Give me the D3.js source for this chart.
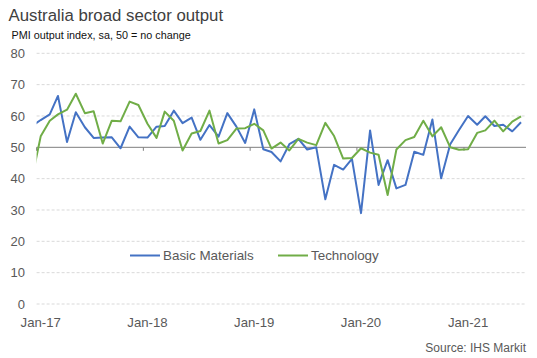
<!DOCTYPE html>
<html><head><meta charset="utf-8">
<script src="https://cdn.jsdelivr.net/npm/d3@7"></script>
<style>
html,body{margin:0;padding:0;background:#fff;}
svg{display:block;font-family:"Liberation Sans",Arial,sans-serif;}
</style></head>
<body><svg id="c" width="537" height="358"></svg>
<script>
// Monthly observations, Dec-16 .. Jul-21 (Dec-16 lies left of the axis start and is clipped)
const months = d3.utcMonth.range(new Date(Date.UTC(2016,11,1)), new Date(Date.UTC(2021,7,1)));
const basicMaterials = [56.7,
 58.7,60.5,66.4,51.7,61.2,56.4,53.0,53.1,53.2,49.7,56.6,53.2,
 53.1,56.6,56.8,61.7,57.7,59.5,52.4,57.1,53.4,60.9,56.6,51.4,
 62.1,49.4,48.5,45.5,51.0,52.7,49.3,50.0,33.4,44.4,42.9,46.3,
 29.0,55.4,38.0,45.9,36.9,38.0,48.6,47.6,58.9,40.1,51.0,55.5,
 60.0,57.2,59.9,56.8,57.2,55.1,58.0];
const technology = [39.5,
 53.5,58.5,60.5,62.0,67.1,60.9,61.5,51.2,58.5,58.3,64.6,63.5,
 57.5,53.0,61.4,58.5,49.0,54.4,55.2,61.7,51.2,52.3,56.0,56.1,
 57.5,55.4,49.6,51.5,49.0,52.7,51.5,50.7,57.8,53.6,46.4,46.6,
 49.7,48.3,47.6,34.8,49.3,52.3,53.3,58.5,53.5,56.4,50.0,49.2,
 49.4,54.6,55.4,58.5,55.1,58.2,59.9];
const yTicks = [0,10,20,30,40,50,60,70,80];
const xTickYears = [2017,2018,2019,2020,2021];
const xTickLabels = ["Jan-17","Jan-18","Jan-19","Jan-20","Jan-21"];
const seriesNames = ["Basic Materials","Technology"];
const seriesColors = ["#4472C4","#70AD47"];
const title = "Australia broad sector output";
const subtitle = "PMI output index, sa, 50 = no change";
const source = "Source: IHS Markit";

const svg = d3.select("#c");
const L = 36.6, R = 526, T = 53.3, B = 304;
const x = d3.scaleUtc().domain([new Date(Date.UTC(2017,0,1)), new Date(Date.UTC(2021,7,1))]).range([L, R]);
const y = d3.scaleLinear().domain([0,80]).range([B, T]);
const mid = d => d3.utcDay.offset(d, 14);

svg.append("text").attr("x",8.5).attr("y",20.8).attr("font-size",16.8).attr("fill","#404040").text(title);
svg.append("text").attr("x",11.5).attr("y",39.3).attr("font-size",10.8).attr("fill","#111").text(subtitle);

// gridlines
const gridVals = yTicks.filter(v => v !== 50);
svg.append("g").selectAll("line").data(gridVals).join("line")
  .attr("x1",L).attr("x2",R).attr("y1",d=>y(d)).attr("y2",d=>y(d))
  .attr("stroke","#d9d9d9").attr("stroke-width",1).attr("stroke-dasharray","3,2");

// y labels
svg.append("g").selectAll("text").data(yTicks).join("text")
  .attr("x",25).attr("y",d=>y(d)).attr("dy","0.36em").attr("text-anchor","end")
  .attr("font-size",13).attr("fill","#595959").text(d=>d);

// axis line at 50 with ticks
const ax = svg.append("g");
ax.append("line").attr("x1",L).attr("x2",R).attr("y1",y(50)).attr("y2",y(50)).attr("stroke","#7f7f7f").attr("stroke-width",1);
ax.selectAll("line.t").data(xTickYears).join("line").attr("class","t")
  .attr("x1",d=>x(new Date(Date.UTC(d,0,1)))).attr("x2",d=>x(new Date(Date.UTC(d,0,1))))
  .attr("y1",y(50)).attr("y2",y(50)+3.5).attr("stroke","#7f7f7f");

// x labels
svg.append("g").selectAll("text").data(xTickYears).join("text")
  .attr("x",(d)=>x(mid(new Date(Date.UTC(d,0,1))))).attr("y",326.5).attr("text-anchor","middle")
  .attr("font-size",13.2).attr("fill","#595959").text((d,i)=>xTickLabels[i]);

// clip
svg.append("clipPath").attr("id","pc").append("rect").attr("x",L).attr("y",0).attr("width",R-L+4).attr("height",358);

const line = d3.line().x((d,i)=>x(mid(months[i]))).y(d=>y(d));
const g = svg.append("g").attr("clip-path","url(#pc)");
[basicMaterials, technology].forEach((s,i)=>{
  g.append("path").datum(s).attr("d",line).attr("fill","none")
   .attr("stroke",seriesColors[i]).attr("stroke-width",2).attr("stroke-linejoin","round");
});

// legend
const leg = svg.append("g");
const legX = [130, 278];
seriesNames.forEach((n,i)=>{
  leg.append("line").attr("x1",legX[i]).attr("x2",legX[i]+30).attr("y1",255.5).attr("y2",255.5)
    .attr("stroke",seriesColors[i]).attr("stroke-width",2);
  leg.append("text").attr("x",legX[i]+33).attr("y",255.5).attr("dy","0.36em")
    .attr("font-size",13.4).attr("fill","#595959").text(n);
});

svg.append("text").attr("x",526).attr("y",352).attr("text-anchor","end")
  .attr("font-size",12).attr("fill","#595959").text(source);
</script></body></html>
